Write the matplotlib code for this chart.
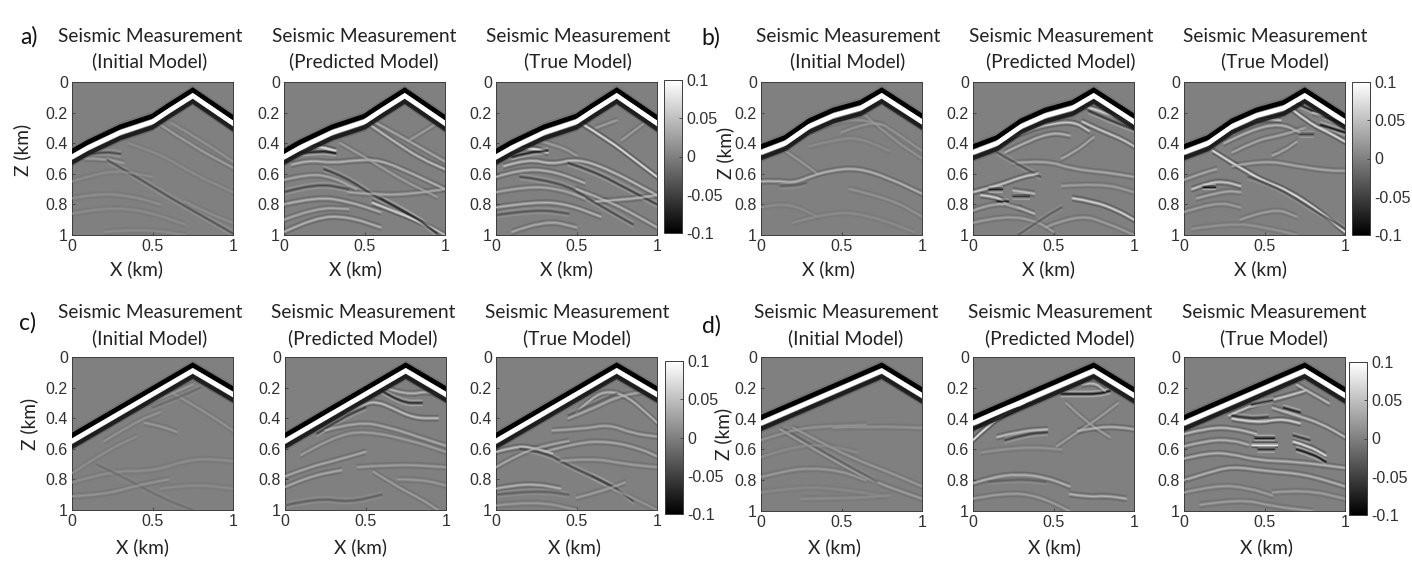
# Seismic measurement panels, wavefronts picked off the figure

import numpy as np
import matplotlib.pyplot as plt
from matplotlib.colors import Normalize
from matplotlib.cm import ScalarMappable
from matplotlib.path import Path
from matplotlib.patches import PathPatch

W, H = 1412, 584

x_ticks = [0, 0.5, 1]
x_labels = ["0", "0.5", "1"]
z_ticks = [0, 0.2, 0.4, 0.6, 0.8, 1]
z_labels = ["0", "0.2", "0.4", "0.6", "0.8", "1"]
cb_ticks = [-0.1, -0.05, 0, 0.05, 0.1]
cb_labels = ["-0.1", "-0.05", "0", "0.05", "0.1"]
titles = ["Initial Model", "Predicted Model", "True Model"]

# first arrival (x, z of the white crest) per experiment
a_arrival_x = [0, 0.1, 0.3, 0.5, 0.6, 0.75, 1]
a_arrival_z = [0.49, 0.43, 0.33, 0.26, 0.19, 0.09, 0.27]
b_arrival_x = [0, 0.15, 0.3, 0.45, 0.62, 0.75, 1]
b_arrival_z = [0.46, 0.40, 0.29, 0.22, 0.17, 0.09, 0.26]
c_arrival_x = [0, 0.75, 1]
c_arrival_z = [0.55, 0.09, 0.245]
d_arrival_x = [0, 0.75, 1]
d_arrival_z = [0.43, 0.09, 0.25]

# events below the arrival: (amplitude, x picks, z picks)
a_initial = [
    (0.03, [0.55, 0.75, 1], [0.28, 0.42, 0.56]),
    (0.02, [0.62, 0.8, 1], [0.27, 0.38, 0.52]),
    (-0.05, [0.12, 0.2, 0.3], [0.47, 0.455, 0.47]),
    (0.03, [0.08, 0.2, 0.32], [0.50, 0.50, 0.53]),
    (-0.04, [0.22, 0.4, 0.6, 0.8, 1], [0.51, 0.62, 0.75, 0.87, 0.99]),
    (0.015, [0, 0.15, 0.35, 0.55], [0.76, 0.73, 0.74, 0.80]),
    (0.012, [0, 0.2, 0.45, 0.7], [0.86, 0.82, 0.84, 0.93]),
    (0.012, [0.2, 0.45, 0.7], [0.98, 0.96, 1.0]),
    (0.012, [0, 0.15, 0.3, 0.5], [0.65, 0.60, 0.58, 0.62]),
    (0.015, [0.7, 0.85, 1], [0.78, 0.86, 0.92]),
    (0.012, [0.35, 0.55, 0.75, 1], [0.40, 0.47, 0.60, 0.72]),
]
a_predicted = [
    (0.09, [0, 0.1, 0.22, 0.32], [0.50, 0.44, 0.42, 0.45]),
    (-0.09, [0.12, 0.22, 0.32], [0.465, 0.45, 0.465]),
    (0.06, [0.52, 0.7, 0.85, 1], [0.27, 0.40, 0.5, 0.57]),
    (0.04, [0.56, 0.75, 1], [0.26, 0.37, 0.52]),
    (0.03, [0.78, 0.95], [0.38, 0.27]),
    (0.05, [0.05, 0.15, 0.3, 0.45, 0.6, 0.8, 1], [0.54, 0.51, 0.53, 0.51, 0.51, 0.60, 0.70]),
    (-0.06, [0.25, 0.38, 0.55, 0.75, 1], [0.57, 0.62, 0.74, 0.85, 1.0]),
    (0.08, [0.55, 0.75, 0.9, 1], [0.79, 0.87, 0.94, 1.0]),
    (-0.07, [0.6, 0.8, 0.95], [0.76, 0.87, 0.99]),
    (0.04, [0.4, 0.6, 0.8, 1], [0.72, 0.74, 0.73, 0.70]),
    (0.04, [0, 0.15, 0.3, 0.45], [0.64, 0.60, 0.62, 0.70]),
    (0.05, [0, 0.2, 0.4, 0.6], [0.80, 0.75, 0.78, 0.85]),
    (0.05, [0, 0.2, 0.4, 0.6], [0.98, 0.88, 0.88, 0.95]),
    (-0.05, [0, 0.2, 0.4], [0.72, 0.66, 0.70]),
    (0.04, [0, 0.2, 0.4], [0.90, 0.82, 0.83]),
    (0.03, [0.35, 0.55, 0.75, 0.95], [0.40, 0.52, 0.65, 0.75]),
]
a_true = [
    (0.09, [0, 0.1, 0.22, 0.32], [0.50, 0.44, 0.43, 0.46]),
    (-0.09, [0.1, 0.2, 0.32], [0.49, 0.46, 0.45]),
    (0.09, [0.53, 0.7, 0.85, 1], [0.27, 0.38, 0.50, 0.62]),
    (0.03, [0.62, 0.75], [0.30, 0.25]),
    (0.03, [0.78, 0.92], [0.38, 0.27]),
    (0.06, [0.05, 0.2, 0.35, 0.5, 0.7, 1], [0.55, 0.50, 0.54, 0.50, 0.57, 0.74]),
    (-0.06, [0.45, 0.6, 0.8, 1], [0.53, 0.58, 0.69, 0.80]),
    (0.05, [0, 0.15, 0.35, 0.55], [0.62, 0.57, 0.58, 0.66]),
    (-0.05, [0.15, 0.4, 0.6, 0.85], [0.62, 0.65, 0.78, 0.93]),
    (0.05, [0.5, 0.7, 0.85, 1], [0.70, 0.78, 0.86, 0.95]),
    (0.04, [0, 0.2, 0.4, 0.55], [0.72, 0.68, 0.70, 0.76]),
    (0.05, [0, 0.25, 0.45, 0.65], [0.82, 0.78, 0.80, 0.88]),
    (-0.04, [0, 0.25, 0.45], [0.87, 0.83, 0.86]),
    (0.04, [0.1, 0.3, 0.5], [0.98, 0.90, 0.95]),
    (0.05, [0.62, 0.8, 1], [0.78, 0.77, 0.74]),
    (0.03, [0.25, 0.4, 0.5], [0.38, 0.42, 0.48]),
]
b_initial = [
    (0.025, [0.15, 0.25, 0.35], [0.45, 0.52, 0.60]),
    (0.05, [0, 0.1, 0.2, 0.3, 0.42, 0.6, 0.8, 1], [0.65, 0.645, 0.66, 0.62, 0.58, 0.56, 0.63, 0.73]),
    (-0.03, [0.12, 0.2, 0.28], [0.68, 0.68, 0.66]),
    (0.02, [0.15, 0.3, 0.45, 0.6, 0.75], [0.40, 0.32, 0.27, 0.24, 0.28]),
    (0.02, [0.5, 0.7, 0.85, 1], [0.33, 0.24, 0.34, 0.45]),
    (0.02, [0.65, 0.8, 1], [0.22, 0.36, 0.50]),
    (0.02, [0.55, 0.8, 1], [0.70, 0.76, 0.88]),
    (0.012, [0, 0.15, 0.35], [0.82, 0.78, 0.88]),
    (0.012, [0.2, 0.45, 0.7, 0.95], [0.92, 0.84, 0.88, 0.98]),
    (0.012, [0.3, 0.45, 0.6, 0.8], [0.42, 0.38, 0.36, 0.45]),
]
b_predicted = [
    (0.07, [0.2, 0.35, 0.5, 0.63, 0.72], [0.38, 0.31, 0.27, 0.26, 0.32]),
    (0.05, [0.2, 0.35, 0.5, 0.6], [0.46, 0.38, 0.33, 0.35]),
    (0.07, [0.68, 0.8, 0.92, 1], [0.26, 0.32, 0.37, 0.42]),
    (0.08, [0.7, 0.85, 1], [0.16, 0.21, 0.28]),
    (-0.07, [0.72, 0.85, 1], [0.19, 0.25, 0.31]),
    (0.04, [0.55, 0.63, 0.75], [0.50, 0.46, 0.36]),
    (0.04, [0.25, 0.45, 0.62, 0.82, 1], [0.53, 0.51, 0.57, 0.59, 0.62]),
    (-0.04, [0.15, 0.28, 0.42], [0.46, 0.54, 0.62]),
    (0.07, [0, 0.15, 0.3, 0.4], [0.72, 0.68, 0.62, 0.60]),
    (-0.09, [0.1, 0.18], [0.70, 0.70]),
    (0.08, [0.05, 0.15, 0.2], [0.74, 0.75, 0.79]),
    (-0.09, [0.15, 0.22], [0.78, 0.78]),
    (0.06, [0.25, 0.33, 0.38], [0.71, 0.72, 0.73]),
    (-0.07, [0.25, 0.35], [0.745, 0.745]),
    (0.06, [0.28, 0.38], [0.82, 0.86]),
    (0.08, [0.62, 0.75, 0.9, 1], [0.76, 0.78, 0.84, 0.90]),
    (0.03, [0.55, 0.8, 1], [0.68, 0.66, 0.72]),
    (0.04, [0, 0.15, 0.3], [0.84, 0.78, 0.83]),
    (0.03, [0, 0.2, 0.4, 0.5], [0.92, 0.87, 0.91, 0.98]),
    (-0.03, [0.28, 0.45, 0.55], [1.0, 0.88, 0.82]),
    (0.03, [0.45, 0.65, 0.85, 1], [0.95, 0.86, 0.93, 1.0]),
]
b_true = [
    (0.09, [0.18, 0.3, 0.4, 0.5, 0.65, 0.85, 1], [0.45, 0.53, 0.59, 0.65, 0.71, 0.85, 0.98]),
    (0.07, [0.3, 0.45, 0.6], [0.31, 0.24, 0.25]),
    (0.05, [0.25, 0.42, 0.6, 0.72], [0.40, 0.31, 0.27, 0.33]),
    (0.04, [0.3, 0.45, 0.6, 0.75], [0.46, 0.38, 0.35, 0.30]),
    (0.09, [0.66, 0.78, 0.9, 1], [0.17, 0.27, 0.33, 0.39]),
    (-0.1, [0.85, 1], [0.28, 0.33]),
    (-0.09, [0.7, 0.8, 1], [0.14, 0.19, 0.28]),
    (0.06, [0.8, 1], [0.2, 0.25]),
    (-0.06, [0.72, 0.8], [0.34, 0.34]),
    (0.04, [0.55, 0.62, 0.7], [0.48, 0.45, 0.39]),
    (0.04, [0.3, 0.5, 0.7, 0.9, 1], [0.55, 0.51, 0.55, 0.58, 0.58]),
    (0.07, [0.05, 0.15, 0.25, 0.35], [0.70, 0.66, 0.65, 0.68]),
    (-0.1, [0.12, 0.19], [0.685, 0.685]),
    (0.04, [0, 0.1, 0.2], [0.64, 0.60, 0.57]),
    (0.04, [0.08, 0.25, 0.35], [0.76, 0.71, 0.72]),
    (-0.04, [0.4, 0.55, 0.75, 1], [0.62, 0.67, 0.80, 0.96]),
    (0.03, [0, 0.2, 0.35], [0.85, 0.78, 0.82]),
    (0.03, [0.35, 0.55, 0.7], [0.90, 0.82, 0.88]),
    (0.02, [0.05, 0.3, 0.5, 0.7], [0.96, 0.92, 0.95, 1.0]),
]
c_initial = [
    (0.025, [0.48, 0.62, 0.75], [0.30, 0.24, 0.18]),
    (0.02, [0.6, 0.8, 1], [0.22, 0.34, 0.48]),
    (-0.02, [0.5, 0.65, 0.8], [0.33, 0.27, 0.2]),
    (0.025, [0.45, 0.55, 0.65], [0.43, 0.45, 0.49]),
    (0.02, [0.2, 0.4, 0.55], [0.55, 0.42, 0.36]),
    (0.015, [0, 0.2, 0.4], [0.76, 0.62, 0.52]),
    (0.015, [0, 0.25, 0.5, 0.75, 1], [0.82, 0.74, 0.75, 0.66, 0.68]),
    (-0.015, [0.15, 0.35, 0.55, 0.75], [0.7, 0.8, 0.92, 1.0]),
    (0.02, [0, 0.2, 0.4, 0.6], [0.91, 0.90, 0.84, 0.80]),
    (0.012, [0.55, 0.75, 1], [0.86, 0.83, 0.86]),
]
c_predicted = [
    (0.06, [0.38, 0.5, 0.58, 0.66, 0.8, 0.95], [0.36, 0.30, 0.295, 0.33, 0.40, 0.40]),
    (0.05, [0.62, 0.75, 0.9, 1], [0.20, 0.25, 0.22, 0.27]),
    (-0.08, [0.6, 0.72, 0.85], [0.22, 0.30, 0.30]),
    (-0.06, [0.2, 0.35, 0.5], [0.50, 0.40, 0.33]),
    (0.09, [0, 0.1, 0.2], [0.56, 0.48, 0.43]),
    (0.04, [0.25, 0.45, 0.65, 0.85, 1], [0.48, 0.42, 0.46, 0.53, 0.58]),
    (0.03, [0.1, 0.3, 0.5, 0.8, 1], [0.64, 0.52, 0.48, 0.55, 0.62]),
    (0.04, [0, 0.15, 0.3, 0.5], [0.78, 0.72, 0.68, 0.62]),
    (0.03, [0.45, 0.7, 1], [0.72, 0.70, 0.72]),
    (0.04, [0, 0.15, 0.35], [0.85, 0.78, 0.74]),
    (0.03, [0.55, 0.7, 0.85, 0.95], [0.75, 0.85, 0.93, 1.0]),
    (-0.03, [0, 0.2, 0.4, 0.6], [0.97, 0.92, 0.95, 0.90]),
    (0.025, [0.7, 0.85, 1], [0.80, 0.80, 0.84]),
]
c_true = [
    (0.05, [0.5, 0.6, 0.7, 0.82, 0.95, 1], [0.36, 0.26, 0.22, 0.26, 0.38, 0.43]),
    (0.04, [0.45, 0.6, 0.75, 0.9], [0.40, 0.34, 0.26, 0.23]),
    (-0.03, [0.45, 0.6, 0.75], [0.38, 0.31, 0.24]),
    (0.04, [0.35, 0.55, 0.7, 0.85, 1], [0.48, 0.47, 0.44, 0.50, 0.52]),
    (0.04, [0.3, 0.5, 0.7, 0.9, 1], [0.62, 0.56, 0.55, 0.60, 0.65]),
    (0.06, [0, 0.12, 0.22, 0.35], [0.62, 0.585, 0.59, 0.63]),
    (-0.05, [0.15, 0.3, 0.45, 0.6, 0.75], [0.60, 0.62, 0.71, 0.78, 0.86]),
    (0.04, [0, 0.15, 0.3, 0.45], [0.72, 0.63, 0.58, 0.55]),
    (0.03, [0.4, 0.6, 0.8, 1], [0.68, 0.66, 0.70, 0.72]),
    (0.05, [0, 0.1, 0.25, 0.4], [0.86, 0.84, 0.83, 0.86]),
    (-0.03, [0, 0.25, 0.45], [0.90, 0.87, 0.90]),
    (-0.05, [0.6, 0.75, 0.85], [0.78, 0.86, 0.94]),
    (0.03, [0.5, 0.65, 0.8], [0.92, 0.88, 0.82]),
    (0.025, [0, 0.25, 0.5], [0.97, 0.94, 1.0]),
    (0.02, [0.7, 0.85, 1], [0.85, 0.92, 1.0]),
]
d_initial = [
    (0.03, [0.12, 0.3, 0.5, 0.7, 1], [0.47, 0.58, 0.70, 0.81, 0.92]),
    (-0.025, [0.15, 0.33, 0.53, 0.72], [0.47, 0.58, 0.70, 0.81]),
    (0.025, [0.2, 0.4, 0.6, 0.8, 1], [0.46, 0.57, 0.67, 0.75, 0.84]),
    (0.02, [0, 0.2, 0.4, 0.65], [0.54, 0.47, 0.45, 0.44]),
    (0.02, [0.45, 0.7, 1], [0.46, 0.45, 0.46]),
    (0.025, [0, 0.15, 0.3, 0.5, 0.65], [0.78, 0.74, 0.72, 0.74, 0.80]),
    (0.012, [0, 0.2, 0.4, 0.6], [0.65, 0.58, 0.57, 0.62]),
    (0.01, [0, 0.25, 0.5, 0.75], [0.88, 0.84, 0.86, 0.90]),
    (0.012, [0.25, 0.5, 0.8], [0.92, 0.92, 0.90]),
]
d_predicted = [
    (0.1, [0, 0.1, 0.2, 0.32], [0.54, 0.44, 0.37, 0.30]),
    (0.06, [0, 0.12, 0.25, 0.36], [0.42, 0.35, 0.31, 0.28]),
    (-0.08, [0.02, 0.15, 0.28], [0.46, 0.37, 0.33]),
    (-0.1, [0.55, 0.65, 0.78, 0.85], [0.24, 0.24, 0.24, 0.22]),
    (0.06, [0.68, 0.75, 0.82], [0.18, 0.16, 0.22]),
    (0.06, [0.15, 0.3, 0.46], [0.52, 0.48, 0.47]),
    (-0.06, [0.2, 0.33, 0.46], [0.54, 0.50, 0.49]),
    (0.03, [0.52, 0.6, 0.75, 0.9], [0.58, 0.52, 0.42, 0.30]),
    (0.03, [0.58, 0.7, 0.85], [0.30, 0.42, 0.52]),
    (0.05, [0.65, 0.8, 0.95, 1], [0.48, 0.45, 0.46, 0.47]),
    (0.02, [0.05, 0.3, 0.55], [0.62, 0.58, 0.60]),
    (0.05, [0, 0.12, 0.28, 0.45, 0.6], [0.82, 0.78, 0.76, 0.78, 0.84]),
    (-0.03, [0.1, 0.28, 0.45], [0.81, 0.79, 0.81]),
    (0.05, [0.6, 0.72, 0.82, 0.95], [0.89, 0.91, 0.90, 0.92]),
    (0.03, [0, 0.2, 0.4, 0.6], [0.92, 0.88, 0.90, 1.0]),
]
d_true = [
    (0.07, [0.28, 0.38, 0.5, 0.62, 0.75], [0.38, 0.33, 0.29, 0.26, 0.22]),
    (-0.09, [0.42, 0.55], [0.31, 0.28]),
    (0.08, [0.3, 0.45, 0.6, 0.72], [0.40, 0.43, 0.40, 0.43]),
    (-0.07, [0.3, 0.4, 0.52], [0.38, 0.40, 0.39]),
    (-0.09, [0.62, 0.72], [0.33, 0.36]),
    (0.06, [0.7, 0.8, 0.9], [0.18, 0.24, 0.30]),
    (0.06, [0.55, 0.7, 0.85, 1], [0.33, 0.38, 0.43, 0.52]),
    (-0.1, [0.44, 0.56], [0.525, 0.525]),
    (0.1, [0.42, 0.58], [0.57, 0.57]),
    (-0.08, [0.46, 0.56], [0.60, 0.60]),
    (0.09, [0.68, 0.78, 0.88], [0.55, 0.58, 0.64]),
    (-0.1, [0.7, 0.8, 0.88], [0.60, 0.63, 0.68]),
    (-0.07, [0.68, 0.78], [0.51, 0.54]),
    (0.06, [0, 0.15, 0.3, 0.45], [0.50, 0.46, 0.46, 0.50]),
    (0.05, [0, 0.15, 0.3, 0.4], [0.58, 0.54, 0.54, 0.57]),
    (0.05, [0, 0.15, 0.3, 0.45, 0.7, 1], [0.66, 0.62, 0.63, 0.67, 0.68, 0.72]),
    (0.05, [0, 0.15, 0.3, 0.5, 0.75, 1], [0.80, 0.75, 0.71, 0.74, 0.76, 0.84]),
    (0.03, [0, 0.2, 0.4, 0.55], [0.88, 0.83, 0.85, 0.90]),
    (0.03, [0.55, 0.75, 1], [0.88, 0.86, 0.92]),
    (0.03, [0.1, 0.35, 0.55, 0.8], [0.96, 0.92, 0.97, 1.0]),
]

# one row per experiment: letter, arrival, events, then placement in figure pixels
experiments = [
    ("a)", a_arrival_x, a_arrival_z, [a_initial, a_predicted, a_true]),
    ("b)", b_arrival_x, b_arrival_z, [b_initial, b_predicted, b_true]),
    ("c)", c_arrival_x, c_arrival_z, [c_initial, c_predicted, c_true]),
    ("d)", d_arrival_x, d_arrival_z, [d_initial, d_predicted, d_true]),
]
axes_left = [[72, 284, 496], [761, 973, 1184], [72, 285, 496], [761, 973, 1184]]
axes_top = [82, 82, 357, 357]
axes_bottom = [235, 235, 510, 511]
title_x = [[150, 364, 578], [848, 1061, 1275], [150, 363, 577], [846, 1060, 1274]]
title_y = [36, 36, 313, 313]
xlabel_x = [[136, 355, 567], [829, 1048, 1261], [142, 361, 574], [835, 1055, 1267]]
xlabel_y = [269, 269, 547, 547]
zlabel_pos = [(22, 150), (725, 153), (29, 424), (723, 434)]
letter_pos = [(29, 37), (711, 38), (28, 323), (711, 326)]
cbar_box = [(664, 80, 233), (1352, 82, 235), (665, 361, 514), (1349, 362, 515)]

cmap = plt.get_cmap("gray")
norm = Normalize(vmin=-0.1, vmax=0.1)
line_col = "#3c3c3c"


def px_axes(fig, x0, x1, top, bottom):
    return fig.add_axes([x0 / W, 1 - bottom / H, (x1 - x0) / W, (bottom - top) / H])


def soft_path(xs, zs):
    # quadratic curves with the picks as control points, so events bend smoothly
    verts = [(xs[0], zs[0])]
    codes = [Path.MOVETO]
    for i in range(1, len(xs) - 1):
        verts += [(xs[i], zs[i]), ((xs[i] + xs[i + 1]) / 2, (zs[i] + zs[i + 1]) / 2)]
        codes += [Path.CURVE3, Path.CURVE3]
    verts.append((xs[-1], zs[-1]))
    codes.append(Path.LINETO)
    return Path(verts, codes)


def stroke(ax, xs, zs, amp, lw, alpha, zorder):
    ax.add_patch(PathPatch(soft_path(xs, zs), fill=False, lw=lw, alpha=alpha,
                           edgecolor=cmap(norm(amp)), capstyle="round", zorder=zorder))


def draw_event(ax, amp, xs, zs):
    zs = np.array(zs)
    # wavelet: soft crest with weaker opposite lobes either side
    for off in (-0.017, 0.017):
        stroke(ax, xs, zs + off, -amp, 1.6, 0.14, 2)
        stroke(ax, xs, zs + off, -amp, 0.8, 0.22, 2)
    stroke(ax, xs, zs, amp, 2.6, 0.14, 3)
    stroke(ax, xs, zs, amp, 1.7, 0.25, 3)
    stroke(ax, xs, zs, amp, 0.9, 0.7, 3)


def draw_arrival(ax, xs, zs):
    zs = np.array(zs)
    ax.plot(xs, zs - 0.037, color="black", lw=3.4, zorder=5, solid_joinstyle="miter")
    ax.plot(xs, zs + 0.037, color="#141414", lw=3.2, alpha=0.9, zorder=4, solid_joinstyle="miter")
    ax.plot(xs, zs + 0.055, color="#404040", lw=1.6, alpha=0.3, zorder=4, solid_joinstyle="miter")
    ax.plot(xs, zs, color="white", lw=3.4, zorder=6, solid_joinstyle="miter")
    ax.plot(xs, zs - 0.06, color="#6c6c6c", lw=1.5, alpha=0.6, zorder=4)


fig = plt.figure(figsize=(W / 100, H / 100), dpi=100)
tick_font = "Liberation Sans"
text_font = "Lato"

for e, (letter, arr_x, arr_z, panels) in enumerate(experiments):
    for p, events in enumerate(panels):
        x0 = axes_left[e][p]
        ax = px_axes(fig, x0, x0 + 161, axes_top[e], axes_bottom[e])
        ax.set_facecolor(cmap(norm(0.0)))
        for amp, xs, zs in events:
            draw_event(ax, amp, xs, zs)
        draw_arrival(ax, arr_x, arr_z)
        ax.set_xlim(0, 1)
        ax.set_ylim(1, 0)
        ax.set_xticks(x_ticks, x_labels, fontfamily=tick_font, fontsize=11.5, color="#303030")
        ax.set_yticks(z_ticks, z_labels, fontfamily=tick_font, fontsize=11.5, color="#303030")
        ax.tick_params(direction="in", length=2, width=0.6, color=line_col, pad=3)
        for s in ax.spines.values():
            s.set_color(line_col)
            s.set_linewidth(0.7)

        fig.text(title_x[e][p] / W, 1 - title_y[e] / H, "Seismic Measurement",
                 ha="center", va="center", fontfamily=text_font, fontsize=13.8, color="#222222")
        fig.text(title_x[e][p] / W, 1 - (title_y[e] + 25) / H, "(" + titles[p] + ")",
                 ha="center", va="center", fontfamily=text_font, fontsize=13.8, color="#222222")
        fig.text(xlabel_x[e][p] / W, 1 - xlabel_y[e] / H, "X (km)",
                 ha="center", va="center", fontfamily=text_font, fontsize=13.8, color="#222222")

    fig.text(zlabel_pos[e][0] / W, 1 - zlabel_pos[e][1] / H, "Z (km)", rotation=90,
             ha="center", va="center", fontfamily=text_font, fontsize=13.8, color="#222222")
    fig.text(letter_pos[e][0] / W, 1 - letter_pos[e][1] / H, letter,
             ha="center", va="center", fontfamily=text_font, fontsize=16.5, color="#111111")

    cx, ctop, cbot = cbar_box[e]
    cax = px_axes(fig, cx, cx + 18, ctop, cbot)
    cb = fig.colorbar(ScalarMappable(norm=norm, cmap=cmap), cax=cax)
    cb.set_ticks(cb_ticks, labels=cb_labels)
    cax.tick_params(direction="in", length=2, width=0.6, color=line_col, pad=3,
                    labelsize=11.5, labelcolor="#303030")
    for lab in cax.get_yticklabels():
        lab.set_fontfamily(tick_font)
    cb.outline.set_edgecolor(line_col)
    cb.outline.set_linewidth(0.7)

fig.savefig("out.png", dpi=100)
